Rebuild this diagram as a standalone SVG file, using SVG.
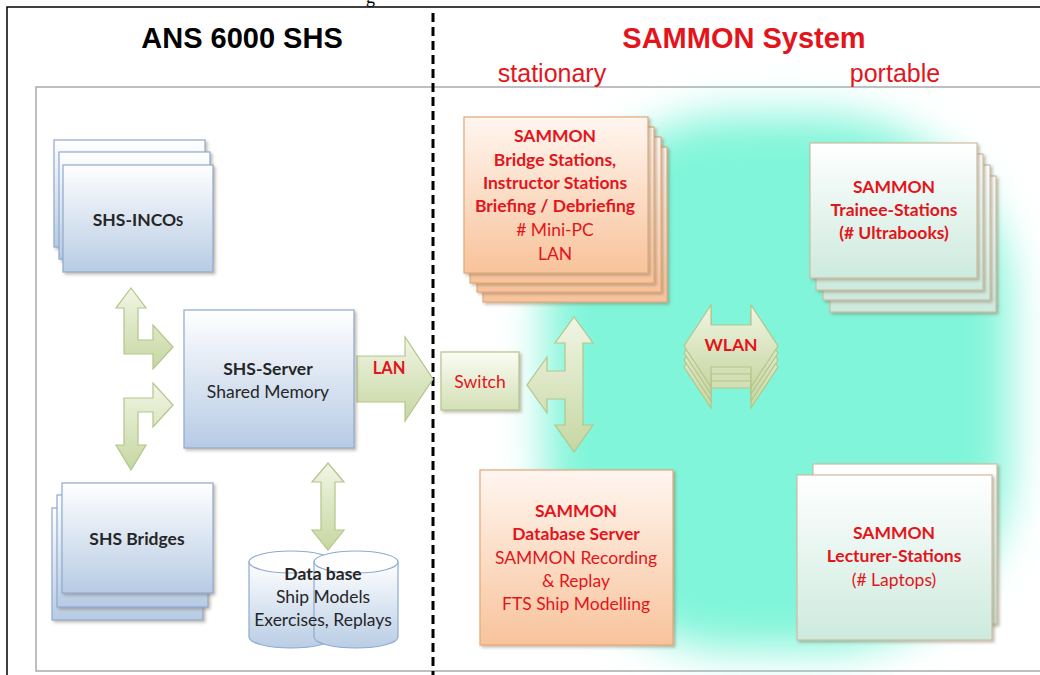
<svg xmlns="http://www.w3.org/2000/svg" width="1040" height="675" viewBox="0 0 1040 675">
<defs>
<style>
.t{font-family:Lato,"Open Sans","Liberation Sans",sans-serif;text-anchor:middle;font-size:17.5px}
.b{font-weight:bold}
.dk{fill:#262626}
.rd{fill:#e3151b}
.blue{fill:url(#gBlue);stroke:#8eaad0;stroke-width:1.2}
.org{fill:url(#gOrg);stroke:#e3a878;stroke-width:1.2}
.mint{fill:url(#gMint);stroke:#cdbf9f;stroke-width:1.2}
.arr{fill:url(#gArr);stroke:#b3c58a;stroke-width:1.2}
.hd{font-family:"Liberation Sans",Arial,sans-serif;text-anchor:middle}
</style>
<linearGradient id="gBlue" x1="0" y1="0" x2="0" y2="1"><stop offset="0" stop-color="#ffffff"/><stop offset="1" stop-color="#b7cbe4"/></linearGradient>
<linearGradient id="gOrg" x1="0" y1="0" x2="0" y2="1"><stop offset="0" stop-color="#fff6f0"/><stop offset="1" stop-color="#f8c39b"/></linearGradient>
<linearGradient id="gMint" x1="0" y1="0" x2="0" y2="1"><stop offset="0" stop-color="#ffffff"/><stop offset="1" stop-color="#cdeade"/></linearGradient>
<linearGradient id="gArr" x1="0" y1="0" x2="0" y2="1"><stop offset="0" stop-color="#f1f5e4"/><stop offset="1" stop-color="#c6d7a2"/></linearGradient>
<linearGradient id="gSw" x1="0" y1="0" x2="0" y2="1"><stop offset="0" stop-color="#fbfcf4"/><stop offset="1" stop-color="#d3e0b5"/></linearGradient>
<linearGradient id="gCyl" x1="0" y1="0" x2="0" y2="1"><stop offset="0" stop-color="#ffffff"/><stop offset="1" stop-color="#b9cde5"/></linearGradient>
<filter id="sh" x="-10%" y="-10%" width="130%" height="130%"><feDropShadow dx="2" dy="2" stdDeviation="1.5" flood-color="#7a6a55" flood-opacity="0.45"/></filter>
<filter id="blur" x="-20%" y="-20%" width="140%" height="140%"><feGaussianBlur stdDeviation="22"/></filter>
</defs>

<rect x="0" y="0" width="1040" height="675" fill="#ffffff"/>
<text x="366" y="3" font-family="Liberation Serif,serif" font-size="18" fill="#000">g</text>
<rect x="7" y="7" width="1045" height="680" fill="none" stroke="#000" stroke-width="1.5"/>
<rect x="36" y="87" width="1012" height="584" fill="#ffffff" stroke="#aaaaaa" stroke-width="1.5"/>

<rect id="cyan-area" x="545" y="115" width="465" height="535" rx="190" fill="#80f5d9" filter="url(#blur)"/>

<line x1="433" y1="13" x2="433" y2="675" stroke="#000" stroke-width="3" stroke-dasharray="9,5"/>

<text class="hd b" x="242" y="48" font-size="29" fill="#000">ANS 6000 SHS</text>
<text class="hd b" x="744" y="48" font-size="29" fill="#e3151b">SAMMON System</text>
<text class="hd" x="552" y="82" font-size="25" fill="#e3151b">stationary</text>
<text class="hd" x="895" y="82" font-size="25" fill="#e3151b">portable</text>

<g id="connectors">
<path class="arr" d="M131,288 L146,308 L138,308 L138,340 L153,340 L153,325 L173,347 L153,369 L153,354 L124,354 L124,308 L116,308 Z"/>
<path class="arr" d="M173,405 L153,427 L153,412 L138,412 L138,445 L146,445 L131,470 L116,445 L124,445 L124,398 L153,398 L153,383 Z"/>
<path class="arr" d="M328,463 L344,482 L335,482 L335,530 L344,530 L328,550 L312,530 L321,530 L321,482 L312,482 Z"/>
<g id="lan-arrow">
<path class="arr" d="M357,356 L405,356 L405,337 L433,379 L405,421 L405,402 L357,402 Z"/>
<text class="t b rd" x="389" y="374" style="font-size:16.5px">LAN</text>
</g>
<path class="arr" d="M574,317 L593,343 L583,343 L583,425 L593,425 L574,452 L555,425 L565,425 L565,399 L547,399 L547,413 L527,385 L547,357 L547,371 L565,371 L565,343 L555,343 Z"/>
<g id="wlan">
<path class="arr" d="M684,367 L711,326 L711,346 L751,346 L751,326 L778,367 L751,408 L751,388 L711,388 L711,408 Z"/>
<path class="arr" d="M684,360 L711,319 L711,339 L751,339 L751,319 L778,360 L751,401 L751,381 L711,381 L711,401 Z"/>
<path class="arr" d="M684,353 L711,312 L711,332 L751,332 L751,312 L778,353 L751,394 L751,374 L711,374 L711,394 Z"/>
<path class="arr" d="M684,346 L711,305 L711,325 L751,325 L751,305 L778,346 L751,387 L751,367 L711,367 L711,387 Z"/>
<text class="t b rd" x="731" y="351">WLAN</text>
</g>
</g>

<g id="shs-incos">
<rect class="blue" x="54" y="140" width="151" height="107" filter="url(#sh)"/>
<rect class="blue" x="59" y="152" width="151" height="107" filter="url(#sh)"/>
<rect class="blue" x="63" y="165" width="150" height="107" filter="url(#sh)"/>
<text class="t b dk" x="138" y="226">SHS-INCO<tspan style="font-size:13px">S</tspan></text>
</g>

<g id="shs-server">
<rect class="blue" x="184" y="310" width="170" height="138" filter="url(#sh)"/>
<text class="t b dk" x="268" y="375">SHS-Server</text>
<text class="t dk" x="268" y="398">Shared Memory</text>
</g>

<g id="shs-bridges">
<rect class="blue" x="52" y="508" width="151" height="112" filter="url(#sh)"/>
<rect class="blue" x="57" y="495" width="151" height="112" filter="url(#sh)"/>
<rect class="blue" x="62" y="483" width="151" height="110" filter="url(#sh)"/>
<text class="t b dk" x="137" y="545">SHS Bridges</text>
</g>

<g id="database">
<path d="M249,562 L249,637 A42,11 0 0 0 333,637 L333,562 Z" fill="url(#gCyl)" stroke="#8eaad0" stroke-width="1.2"/>
<ellipse cx="291" cy="562" rx="42" ry="11" fill="#ffffff" stroke="#8eaad0" stroke-width="1.2"/>
<path d="M314,562 L314,637 A42,11 0 0 0 398,637 L398,562 Z" fill="url(#gCyl)" stroke="#8eaad0" stroke-width="1.2"/>
<ellipse cx="356" cy="562" rx="42" ry="11" fill="#ffffff" stroke="#8eaad0" stroke-width="1.2"/>
<text class="t b dk" x="323" y="580">Data base</text>
<text class="t dk" x="323" y="603">Ship Models</text>
<text class="t dk" x="323" y="626">Exercises, Replays</text>
</g>

<g id="switch">
<rect x="441" y="352" width="78" height="58" fill="url(#gSw)" stroke="#b3c58a" stroke-width="1.2" filter="url(#sh)"/>
<text class="t rd" x="480" y="388">Switch</text>
</g>

<g id="sammon-stations">
<rect class="org" x="483" y="147" width="184" height="155" filter="url(#sh)"/>
<rect class="org" x="477" y="137" width="184" height="155" filter="url(#sh)"/>
<rect class="org" x="470" y="127" width="184" height="156" filter="url(#sh)"/>
<rect class="org" x="464" y="117" width="184" height="156" filter="url(#sh)"/>
<text class="t b rd" x="555" y="142">SAMMON</text>
<text class="t b rd" x="555" y="166">Bridge Stations,</text>
<text class="t b rd" x="555" y="189">Instructor Stations</text>
<text class="t b rd" x="555" y="212">Briefing / Debriefing</text>
<text class="t rd" x="555" y="236"># Mini-PC</text>
<text class="t rd" x="555" y="260">LAN</text>
</g>

<g id="sammon-db">
<rect class="org" x="480" y="470" width="193" height="175" filter="url(#sh)"/>
<text class="t b rd" x="576" y="517">SAMMON</text>
<text class="t b rd" x="576" y="540">Database Server</text>
<text class="t rd" x="576" y="564">SAMMON Recording</text>
<text class="t rd" x="576" y="587">&amp; Replay</text>
<text class="t rd" x="576" y="610">FTS Ship Modelling</text>
</g>

<g id="trainee-stations">
<rect class="mint" x="830" y="176" width="166" height="136" filter="url(#sh)"/>
<rect class="mint" x="823" y="165" width="167" height="135" filter="url(#sh)"/>
<rect class="mint" x="816" y="154" width="167" height="136" filter="url(#sh)"/>
<rect class="mint" x="810" y="143" width="167" height="135" filter="url(#sh)"/>
<text class="t b rd" x="894" y="193">SAMMON</text>
<text class="t b rd" x="894" y="216">Trainee-Stations</text>
<text class="t b rd" x="894" y="239">(# Ultrabooks)</text>
</g>

<g id="lecturer-stations">
<rect class="mint" x="813" y="464" width="184" height="160" filter="url(#sh)"/>
<rect class="mint" x="797" y="475" width="195" height="165" filter="url(#sh)"/>
<text class="t b rd" x="894" y="539">SAMMON</text>
<text class="t b rd" x="894" y="562">Lecturer-Stations</text>
<text class="t rd" x="894" y="586">(# Laptops)</text>
</g>
</svg>
